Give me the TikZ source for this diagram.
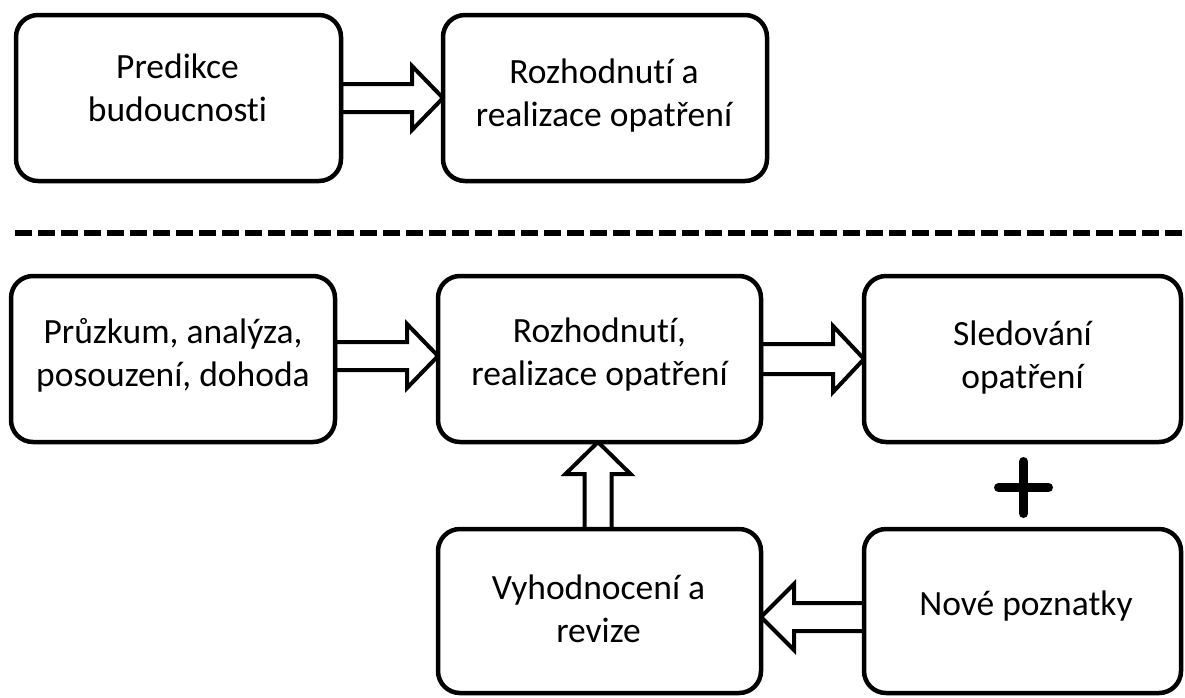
\documentclass[tikz,border=0pt]{standalone}
\usepackage{fontspec}
\setmainfont[Ligatures=CommonOff]{Carlito}
\usetikzlibrary{calc}
\pgfdeclarelayer{arrows}
\pgfsetlayers{arrows,main}

\begin{document}
\begin{tikzpicture}[x=1pt,y=-1pt,
  box/.style={draw=black, line width=4.5pt, rounded corners=22pt, fill=white,
    inner sep=0pt, outer sep=0pt},
  txt/.style={anchor=base, inner sep=0pt, outer sep=0pt,
    font=\fontsize{35.5}{43}\selectfont},
  blk/.style={draw=black, fill=white, line width=4pt, line join=miter},
  sep/.style={line width=5.5pt, dash pattern=on 17pt off 6pt},
  plus/.style={line width=9pt, line cap=round}]
\useasboundingbox (0,0) rectangle (1185,697);
\renewcommand{\arraystretch}{1}
\setlength{\tabcolsep}{0pt}

% boxes
\node[box, minimum width=325pt, minimum height=166pt] (b1) at (178.5,98) {};
\node[box, minimum width=324pt, minimum height=166pt] (b2) at (605,98) {};
\node[box, minimum width=324pt, minimum height=166pt] (b3) at (173,359) {};
\node[box, minimum width=323pt, minimum height=166pt] (b4) at (599.5,359) {};
\node[box, minimum width=317pt, minimum height=166pt] (b5) at (1022.5,359) {};
\node[box, minimum width=317pt, minimum height=164pt] (b6) at (1022.5,611) {};
\node[box, minimum width=323pt, minimum height=164pt] (b7) at (599.5,611) {};

% block arrows sit on a lower layer so the box borders cover their tails
\begin{pgfonlayer}{arrows}
% top row: b1 -> b2
\draw[blk] ($(b1.east)+(0,-14)$) -- ($(b2.west)+(-31,-14)$) -- ($(b2.west)+(-31,-32)$)
  -- (b2.west) -- ($(b2.west)+(-31,32)$) -- ($(b2.west)+(-31,14)$) -- ($(b1.east)+(0,14)$) -- cycle;
% b3 -> b4
\draw[blk] ($(b3.east)+(0,-17)$) -- ($(b4.west)+(-31,-17)$) -- ($(b4.west)+(-31,-35)$)
  -- ($(b4.west)+(0,-3)$) -- ($(b4.west)+(-31,29)$) -- ($(b4.west)+(-31,11)$) -- ($(b3.east)+(0,11)$) -- cycle;
% b4 -> b5
\draw[blk] ($(b4.east)+(0,-15)$) -- ($(b5.west)+(-31,-15)$) -- ($(b5.west)+(-31,-33)$)
  -- (b5.west) -- ($(b5.west)+(-31,33)$) -- ($(b5.west)+(-31,15)$) -- ($(b4.east)+(0,15)$) -- cycle;
% b7 -> b4 (upward)
\draw[blk] ($(b7.north)+(-15,0)$) -- ($(b4.south)+(-15,32)$) -- ($(b4.south)+(-34,32)$)
  -- ($(b4.south)+(-1.5,0)$) -- ($(b4.south)+(31,32)$) -- ($(b4.south)+(12,32)$) -- ($(b7.north)+(12,0)$) -- cycle;
% b6 -> b7 (leftward)
\draw[blk] ($(b6.west)+(0,-8)$) -- ($(b7.east)+(33,-8)$) -- ($(b7.east)+(33,-27)$)
  -- ($(b7.east)+(0,6)$) -- ($(b7.east)+(33,39)$) -- ($(b7.east)+(33,20)$) -- ($(b6.west)+(0,20)$) -- cycle;
\end{pgfonlayer}

% separator
\coordinate (sepl) at (15,233);
\coordinate (sepr) at (1182,233);
\draw[sep] (sepl) -- (sepr);

% plus sign between b5 and b6
\coordinate (pc) at ($(b5.south)!0.5!(b6.north)+(1,2)$);
\draw[plus] ($(pc)+(0,-26)$) -- ($(pc)+(0,26)$);
\draw[plus] ($(pc)+(-25,0)$) -- ($(pc)+(25,0)$);

% texts
\node[txt] (t1) at (177.5,78) {\begin{tabular}[t]{c}Predikce\\budoucnosti\end{tabular}};
\node[txt] (t2) at (604,83) {\begin{tabular}[t]{c}Rozhodnutí a\\realizace opatření\end{tabular}};
\node[txt] (t3) at (173,343) {\begin{tabular}[t]{c}Průzkum, analýza,\\posouzení, dohoda\end{tabular}};
\node[txt] (t4) at (599.5,342) {\begin{tabular}[t]{c}Rozhodnutí,\\realizace opatření\end{tabular}};
\node[txt] (t5) at (1022.5,345) {\begin{tabular}[t]{c}Sledování\\opatření\end{tabular}};
\node[txt] (t6) at (1026,615) {Nové poznatky};
\node[txt] (t7) at (598.5,599) {\begin{tabular}[t]{c}Vyhodnocení a\\revize\end{tabular}};
\end{tikzpicture}
\end{document}
